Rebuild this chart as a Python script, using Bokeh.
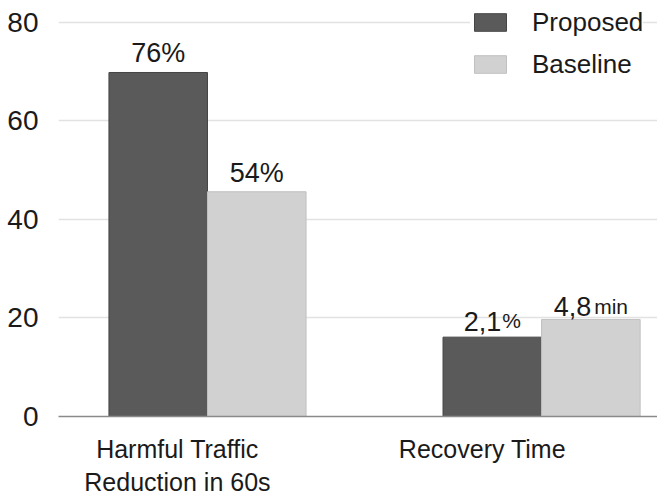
from bokeh.plotting import figure
from bokeh.models import FixedTicker, ColumnDataSource, Legend, LegendItem, Range1d
from bokeh.core.properties import value
from bokeh.embed import file_html
from bokeh.resources import INLINE

categories = ["Harmful Traffic\nReduction in 60s", "Recovery Time"]
series = ["Proposed", "Baseline"]
proposed = [69.8, 16.1]
baseline = [45.6, 19.7]
proposed_labels = ["76%", "2,1"]
proposed_units = ["", "%"]
baseline_labels = ["54%", "4,8"]
baseline_units = ["", "min"]
y_ticks = [0, 20, 40, 60, 80]

FONT = "Liberation Sans"
MAIN_SIZE = 27
UNIT_SIZE = 21
DARK = "#5a5a5a"
LIGHT = "#d1d1d1"
BAR_W = 0.295
LABEL_SHIFT = [-0.09, -0.177]

CHAR_W = {"0": .556, "1": .556, "2": .556, "3": .556, "4": .556, "5": .556,
          "6": .556, "7": .556, "8": .556, "9": .556, ",": .278, "%": .889,
          "m": .833, "i": .222, "n": .556}


def text_w(s, size):
    return sum(CHAR_W.get(c, .556) for c in s) * size


p = figure(width=657, height=499, output_backend="svg", toolbar_location=None,
           x_range=Range1d(-0.446, 1.347), y_range=Range1d(0, 84),
           min_border_left=58, min_border_right=0, min_border_top=2,
           min_border_bottom=10)
p.outline_line_color = None
p.background_fill_color = "white"
p.border_fill_color = "white"

xs = list(range(len(categories)))
src_p = ColumnDataSource(dict(x=[i - BAR_W / 2 for i in xs], top=proposed))
src_b = ColumnDataSource(dict(x=[i + BAR_W / 2 for i in xs], top=baseline))
r_p = p.vbar(x="x", top="top", width=BAR_W, source=src_p, fill_color=DARK,
             line_color="#454545", line_width=1)
r_b = p.vbar(x="x", top="top", width=BAR_W, source=src_b, fill_color=LIGHT,
             line_color="#c0c0c0", line_width=1)


def add_labels(xvals, tops, labels, units, gaps):
    for x, t, lab, un, g in zip(xvals, tops, labels, units, gaps):
        if un == "":
            p.text(x=[x], y=[t], text=[lab], text_align="center", text_baseline="bottom",
                   y_offset=-g, text_font=value(FONT), text_font_size=f"{MAIN_SIZE}px",
                   text_color="#1a1a1a")
        else:
            mw = text_w(lab, MAIN_SIZE)
            uw = text_w(un, UNIT_SIZE)
            sp = 3 if un == "min" else 1
            shift = (mw - uw - sp) / 2
            desc_diff = 0.21 * (MAIN_SIZE - UNIT_SIZE)
            p.text(x=[x], y=[t], text=[lab], text_align="right", text_baseline="bottom",
                   x_offset=shift, y_offset=-g, text_font=value(FONT),
                   text_font_size=f"{MAIN_SIZE}px", text_color="#1a1a1a")
            p.text(x=[x], y=[t], text=[un], text_align="left", text_baseline="bottom",
                   x_offset=shift + sp, y_offset=-g + desc_diff, text_font=value(FONT),
                   text_font_size=f"{UNIT_SIZE}px", text_color="#1a1a1a")


add_labels(src_p.data["x"], proposed, proposed_labels, proposed_units, [4, 6])
add_labels(src_b.data["x"], baseline, baseline_labels, baseline_units, [4, 3])

# axes
p.yaxis.ticker = FixedTicker(ticks=y_ticks)
p.yaxis.axis_line_color = None
p.yaxis.major_tick_line_color = None
p.yaxis.minor_tick_line_color = None
p.yaxis.major_label_text_font = FONT
p.yaxis.major_label_text_font_size = "28px"
p.yaxis.major_label_text_color = "#1a1a1a"
p.yaxis.major_label_standoff = 14

tick_pos = [round(i + s, 3) for i, s in zip(xs, LABEL_SHIFT)]
p.xaxis.ticker = FixedTicker(ticks=tick_pos)
p.xaxis.major_label_overrides = {t: c for t, c in zip(tick_pos, categories)}
p.xaxis.axis_line_color = "#8a8a8a"
p.xaxis.axis_line_width = 1.5
p.xaxis.major_tick_line_color = None
p.xaxis.minor_tick_line_color = None
p.xaxis.major_label_text_font = FONT
p.xaxis.major_label_text_font_size = "25px"
p.xaxis.major_label_text_color = "#1a1a1a"
p.xaxis.major_label_standoff = 12

p.xgrid.grid_line_color = None
p.ygrid.grid_line_color = "#e2e2e2"
p.ygrid.grid_line_width = 1.5

legend = Legend(items=[LegendItem(label=series[0], renderers=[r_p]),
                       LegendItem(label=series[1], renderers=[r_b])],
                location=(412, 335), border_line_color=None,
                background_fill_color="white", background_fill_alpha=1.0,
                label_text_font=FONT, label_text_font_size="26px",
                label_text_color="#1a1a1a", glyph_width=40, glyph_height=22,
                label_standoff=22, spacing=8, padding=8, margin=0,
                label_height=34)
p.add_layout(legend)

open("out.html", "w").write(file_html(p, INLINE))
